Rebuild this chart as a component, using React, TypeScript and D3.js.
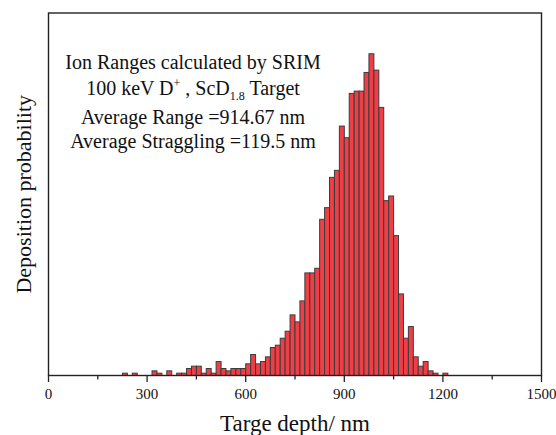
import React from "react";
import * as d3 from "d3";

// Histogram of ion ranges (SRIM), bins of 15 nm
const binWidth = 15;
const binStarts = [225, 255, 315, 330, 360, 390, 405, 420, 435, 450, 465, 480, 495, 510, 525, 540, 555, 570, 585, 600, 615, 630, 645, 660, 675, 690, 705, 720, 735, 750, 765, 780, 795, 810, 825, 840, 855, 870, 885, 900, 915, 930, 945, 960, 975, 990, 1005, 1020, 1035, 1050, 1065, 1080, 1095, 1110, 1125, 1140, 1155, 1170, 1200];
const counts = [1, 1, 2, 1, 2, 1, 1, 3, 4, 4, 1, 3, 1, 6, 3, 2, 3, 3, 3, 5, 9, 5, 6, 8, 12, 13, 16, 19, 26, 23, 32, 44, 44, 46, 67, 72, 85, 88, 107, 102, 121, 122, 122, 130, 138, 131, 115, 75, 77, 60, 35, 16, 21, 8, 4, 6, 2, 1, 1];
const majorTicks = [0, 300, 600, 900, 1200, 1500];
const minorTicks = [150, 450, 750, 1050, 1350];
const xTitle = "Targe depth/ nm";
const yTitle = "Deposition probability";

const W = 556;
const H = 435;
const left = 48.5;
const right = 541.5;
const top = 13;
const bottom = 375.5;

export default function App() {
  const x = d3.scaleLinear().domain([0, 1500]).range([left, right]);
  const y = d3.scaleLinear().domain([0, 155.5]).range([bottom, top]);
  const font = "'Liberation Serif', 'Times New Roman', serif";
  const cx = 193;

  return (
    <svg
      width={W}
      height={H}
      style={{ position: "absolute", left: 0, top: 0, display: "block", background: "#fff" }}
      fontFamily={font}
    >
      <rect x={0} y={0} width={W} height={H} fill="#fff" />
      {binStarts.map((s, i) => (
        <rect
          key={s}
          x={x(s)}
          y={y(counts[i])}
          width={x(s + binWidth) - x(s)}
          height={y(0) - y(counts[i])}
          fill="#ef3e46"
          stroke="#3c3c3c"
          strokeWidth={1}
        />
      ))}
      <rect
        x={left}
        y={top}
        width={right - left}
        height={bottom - top}
        fill="none"
        stroke="#222"
        strokeWidth={1.4}
      />
      {majorTicks.map((t) => (
        <g key={"M" + t}>
          <line x1={x(t)} x2={x(t)} y1={bottom} y2={bottom + 6.5} stroke="#222" strokeWidth={1.3} />
          <text x={x(t)} y={399} textAnchor="middle" fontSize={15} fill="#111">
            {t}
          </text>
        </g>
      ))}
      {minorTicks.map((t) => (
        <line key={"m" + t} x1={x(t)} x2={x(t)} y1={bottom} y2={bottom + 4} stroke="#222" strokeWidth={1.3} />
      ))}
      <text x={(left + right) / 2} y={431} textAnchor="middle" fontSize={23} fill="#111">
        {xTitle}
      </text>
      <text
        transform={`translate(31, ${(top + bottom) / 2}) rotate(-90)`}
        textAnchor="middle"
        fontSize={22}
        fill="#111"
      >
        {yTitle}
      </text>
      <g fontSize={20} fill="#111" textAnchor="middle">
        <text x={cx} y={69}>Ion Ranges calculated by SRIM</text>
        <text x={cx} y={95}>
          100 keV D
          <tspan fontSize={12} dy={-8}>+</tspan>
          <tspan dy={8}> , ScD</tspan>
          <tspan fontSize={12} dy={5}>1.8</tspan>
          <tspan dy={-5}> Target</tspan>
        </text>
        <text x={cx} y={124}>Average Range =914.67 nm</text>
        <text x={cx} y={148}>Average Straggling =119.5 nm</text>
      </g>
    </svg>
  );
}
